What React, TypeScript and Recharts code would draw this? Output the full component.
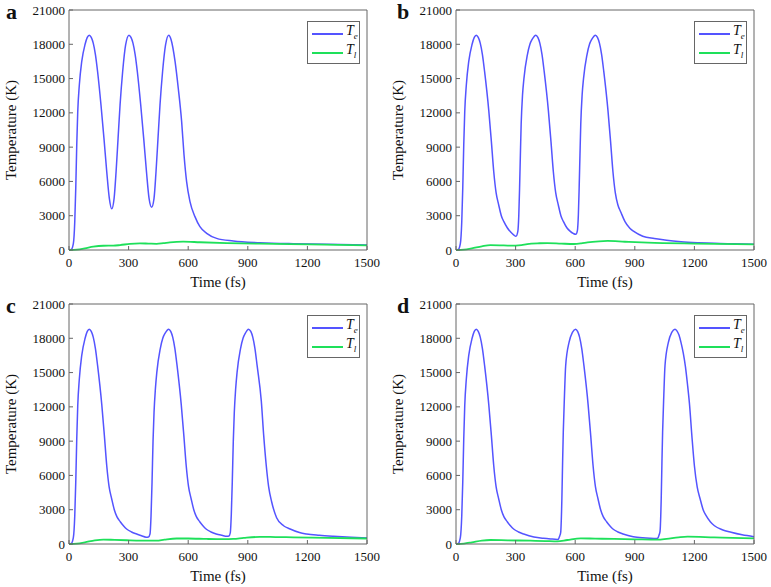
import React from 'react';
import { LineChart, Line, XAxis, YAxis, Legend } from 'recharts';

const xTicks = [0, 300, 600, 900, 1200, 1500];
const yTicks = [0, 3000, 6000, 9000, 12000, 15000, 18000, 21000];
const seriesNames = ['Te', 'Tl'];

// [time fs, temperature K]
const aTe: [number, number][] = [
  [0, 0], [12, 60], [22, 580], [29, 2480], [34, 5400], [39, 9190], [44, 12100], [52, 14440], [64, 16480], [81, 18000],
  [92, 18600], [102, 18800], [112, 18600], [122, 18100], [133, 17100], [144, 15600], [161, 12690], [176, 9770],
  [190, 6850], [203, 4520], [215, 3600], [227, 4520], [237, 6850], [247, 9770], [257, 12690], [270, 15600],
  [285, 17940], [302, 18800], [312, 18600], [322, 18100], [333, 17100], [344, 15600], [361, 12690], [376, 9770],
  [390, 6850], [403, 4520], [416, 3750], [428, 4520], [438, 6850], [448, 9770], [458, 12690], [471, 15600],
  [486, 17940], [502, 18800], [514, 18400], [534, 16480], [550, 14150], [567, 11230], [579, 8310], [592, 5980],
  [609, 4230], [634, 2920], [659, 2040], [693, 1460], [743, 1020], [827, 790], [961, 640], [1129, 550],
  [1297, 500], [1500, 440],
];
const aTl: [number, number][] = [
  [0, 0], [40, 40], [80, 150], [122, 290], [173, 370], [223, 380], [257, 430], [307, 540], [357, 580],
  [400, 560], [441, 540], [475, 600], [508, 670], [575, 730], [659, 680], [794, 610], [961, 550], [1213, 490],
  [1500, 410],
];

const bTe: [number, number][] = [
  [0, 0], [12, 60], [22, 580], [29, 2480], [34, 5400], [39, 9190], [44, 12100], [52, 14440], [64, 16480], [81, 18000],
  [92, 18600], [102, 18800], [112, 18600], [122, 18100], [133, 17100], [144, 15600], [165, 12200], [178, 9500],
  [190, 6850], [202, 5000], [215, 3940], [228, 3000], [241, 2480], [258, 1950], [274, 1600], [290, 1330],
  [302, 1200], [311, 1600], [316, 3000], [320, 5400], [324, 8300], [328, 11000], [335, 13600], [342, 15020],
  [359, 17060], [372, 18000], [384, 18450], [402, 18800], [412, 18600], [422, 18100], [433, 17100], [444, 15600],
  [465, 12200], [478, 9500], [490, 6850], [502, 5000], [515, 3940], [528, 3000], [541, 2480], [558, 1950],
  [574, 1650], [590, 1450], [603, 1370], [611, 1700], [616, 3100], [620, 5500], [624, 8300], [628, 11000],
  [635, 13600], [642, 15020], [659, 17060], [672, 18000], [684, 18450], [702, 18800], [712, 18600], [722, 18100],
  [733, 17100], [744, 15600], [765, 12200], [778, 9500], [790, 6850], [802, 5000], [815, 3940], [830, 3300],
  [850, 2500], [875, 1900], [897, 1600], [940, 1200], [998, 1000], [1060, 850], [1133, 730], [1220, 640],
  [1301, 580], [1400, 540], [1500, 500],
];
const bTl: [number, number][] = [
  [0, 0], [40, 40], [80, 150], [130, 320], [173, 420], [240, 400], [300, 380], [330, 420], [358, 520], [420, 590],
  [460, 610], [530, 560], [594, 525], [630, 580], [662, 670], [720, 760], [763, 790], [850, 720], [965, 640],
  [1200, 560], [1500, 500],
];

const cTe: [number, number][] = [
  [0, 0], [12, 60], [22, 580], [29, 2480], [34, 5400], [39, 9190], [44, 12100], [52, 14440], [64, 16480], [81, 18000],
  [92, 18600], [102, 18800], [112, 18600], [122, 18100], [133, 17100], [144, 15600], [165, 12200], [178, 9500],
  [190, 6850], [202, 5000], [215, 3940], [228, 3000], [241, 2400], [258, 1950], [274, 1600], [290, 1310],
  [315, 1050], [341, 875], [365, 720], [388, 600], [400, 620], [408, 900], [413, 2500], [418, 5400], [423, 9000],
  [428, 11500], [435, 13600], [442, 15020], [459, 17060], [472, 18000], [484, 18450], [502, 18800], [512, 18600],
  [522, 18100], [533, 17100], [544, 15600], [565, 12200], [578, 9500], [590, 6850], [602, 5000], [615, 3940],
  [628, 3000], [641, 2400], [658, 1950], [674, 1600], [690, 1310], [715, 1050], [741, 875], [770, 760],
  [795, 680], [805, 700], [812, 1000], [817, 2600], [822, 5500], [827, 9000], [832, 11500], [839, 13600],
  [846, 15020], [863, 17060], [876, 18000], [888, 18450], [903, 18800], [915, 18600], [925, 18100], [936, 17100],
  [947, 15600], [968, 12500], [980, 9500], [993, 6850], [1005, 5000], [1020, 3700], [1045, 2300], [1080, 1600],
  [1113, 1310], [1160, 1000], [1196, 875], [1260, 760], [1330, 670], [1420, 580], [1500, 525],
];
const cTl: [number, number][] = [
  [0, 0], [40, 40], [80, 150], [130, 320], [173, 390], [230, 360], [290, 330], [360, 300], [441, 290], [480, 380],
  [542, 480], [600, 480], [693, 440], [780, 420], [827, 440], [880, 530], [961, 620], [1040, 610], [1129, 580],
  [1300, 540], [1500, 480],
];

const dTe: [number, number][] = [
  [0, 0], [12, 60], [22, 580], [29, 2480], [34, 5400], [39, 9190], [44, 12100], [52, 14440], [64, 16480], [81, 18000],
  [92, 18600], [102, 18800], [112, 18600], [122, 18100], [133, 17100], [144, 15600], [165, 12200], [178, 9500],
  [190, 6850], [202, 5000], [215, 3940], [228, 3000], [241, 2400], [258, 1950], [274, 1600], [290, 1310],
  [315, 1050], [341, 875], [392, 620], [440, 500], [476, 440], [510, 400], [515, 420], [522, 700], [527, 1020],
  [533, 4000], [537, 7500], [540, 9770], [546, 13000], [552, 15600], [569, 17650], [586, 18520], [602, 18800],
  [612, 18600], [622, 18100], [633, 17100], [644, 15600], [665, 12200], [678, 9500], [690, 6850], [702, 5000],
  [715, 3940], [728, 3000], [741, 2400], [758, 1950], [774, 1600], [790, 1310], [815, 1050], [841, 875],
  [892, 640], [940, 540], [976, 500], [1010, 480], [1015, 500], [1022, 780], [1027, 1100], [1033, 4000],
  [1037, 7500], [1040, 9770], [1046, 13000], [1052, 15600], [1069, 17650], [1086, 18520], [1102, 18800],
  [1112, 18650], [1122, 18300], [1133, 17600], [1144, 16700], [1155, 15500], [1165, 14000], [1175, 12300],
  [1188, 9300], [1200, 6850], [1214, 5000], [1229, 3940], [1244, 3000], [1259, 2480], [1280, 1950], [1301, 1600],
  [1340, 1250], [1385, 1020], [1440, 800], [1500, 640],
];
const dTl: [number, number][] = [
  [0, 0], [40, 40], [80, 150], [130, 300], [173, 350], [260, 320], [375, 290], [450, 260], [510, 230], [560, 350],
  [628, 500], [700, 470], [796, 440], [900, 410], [1015, 380], [1060, 450], [1120, 580], [1166, 640], [1300, 580],
  [1500, 500],
];

const panels = [
  { letter: 'a', te: aTe, tl: aTl, left: 0, top: 0 },
  { letter: 'b', te: bTe, tl: bTl, left: 387, top: 0 },
  { letter: 'c', te: cTe, tl: cTl, left: 0, top: 294 },
  { letter: 'd', te: dTe, tl: dTl, left: 387, top: 294 },
];

const toRows = (pts: [number, number][]) => pts.map(([t, v]) => ({ t, v }));

const FONT = '"Liberation Serif", "Times New Roman", serif';
const AXIS = '#666';
const BLUE = '#5454ff';
const GREEN = '#1ee05a';

const YLabel = (props: any) => {
  const vb = props.viewBox || {};
  const x = 13;
  const y = (vb.y || 10) + (vb.height || 240) / 2;
  return (
    <text x={x} y={y} transform={`rotate(-90, ${x}, ${y})`} textAnchor="middle" dominantBaseline="middle"
      fontFamily={FONT} fontSize={15} fill="#111">
      Temperature (K)
    </text>
  );
};

const LegendBox = (props: any) => {
  const payload = props.payload || [];
  return (
    <div style={{ width: 53, height: 43, border: `1px solid ${AXIS}`, background: '#fff', boxSizing: 'border-box',
      paddingTop: 2, fontFamily: FONT }}>
      {payload.map((p: any) => (
        <div key={p.value} style={{ display: 'flex', alignItems: 'center', height: 19 }}>
          <span style={{ display: 'inline-block', marginLeft: 4, width: 31, borderTop: `2px solid ${p.color}` }} />
          <span style={{ marginLeft: 3, fontStyle: 'italic', fontSize: 14, color: '#111', lineHeight: '14px' }}>
            T<sub style={{ fontSize: 9 }}>{p.value === 'Te' ? 'e' : 'l'}</sub>
          </span>
        </div>
      ))}
    </div>
  );
};

const Panel = ({ te, tl }: { te: [number, number][]; tl: [number, number][] }) => (
  <LineChart width={385} height={290} margin={{ top: 9, right: 17, bottom: 0, left: 0 }} style={{ fontFamily: FONT }}>
    <XAxis xAxisId="b" dataKey="t" type="number" domain={[0, 1500]} ticks={xTicks} interval={0} height={40}
      tickSize={-4} tickMargin={12} stroke={AXIS}
      tick={{ fill: '#111', fontSize: 13, fontFamily: FONT }}
      label={{ value: 'Time (fs)', position: 'insideBottom', offset: 3, fill: '#111', fontSize: 15, fontFamily: FONT }} />
    <XAxis xAxisId="t" orientation="top" dataKey="t" type="number" domain={[0, 1500]} ticks={xTicks} height={1}
      tickSize={-4} tick={false} stroke={AXIS} />
    <YAxis yAxisId="l" type="number" domain={[0, 21000]} ticks={yTicks} interval={0} width={69}
      tickSize={-4} tickMargin={8} stroke={AXIS}
      tick={{ fill: '#111', fontSize: 13, fontFamily: FONT }} label={<YLabel />} />
    <YAxis yAxisId="r" orientation="right" type="number" domain={[0, 21000]} ticks={yTicks} width={1}
      tickSize={-4} tick={false} stroke={AXIS} />
    <Legend layout="vertical" align="center" verticalAlign="middle" content={<LegendBox />}
      wrapperStyle={{ left: 307, top: 21, width: 53, height: 43 }} />
    <Line xAxisId="b" yAxisId="l" name={seriesNames[0]} data={toRows(te)} dataKey="v" type="monotone"
      stroke={BLUE} strokeWidth={1.5} dot={false} isAnimationActive={false} />
    <Line xAxisId="b" yAxisId="l" name={seriesNames[1]} data={toRows(tl)} dataKey="v" type="monotone"
      stroke={GREEN} strokeWidth={1.8} dot={false} isAnimationActive={false} />
  </LineChart>
);

export default function App() {
  return (
    <div style={{ position: 'absolute', left: 0, top: 0, width: 771, height: 587, background: '#fff' }}>
      {panels.map((p) => (
        <div key={p.letter} style={{ position: 'absolute', left: p.left, top: p.top, width: 385, height: 290 }}>
          <Panel te={p.te} tl={p.tl} />
          <div style={{ position: 'absolute', left: p.left ? 10 : 6, top: 1, fontFamily: FONT, fontWeight: 'bold',
            fontSize: 22, lineHeight: '22px', color: '#111' }}>
            {p.letter}
          </div>
        </div>
      ))}
    </div>
  );
}
